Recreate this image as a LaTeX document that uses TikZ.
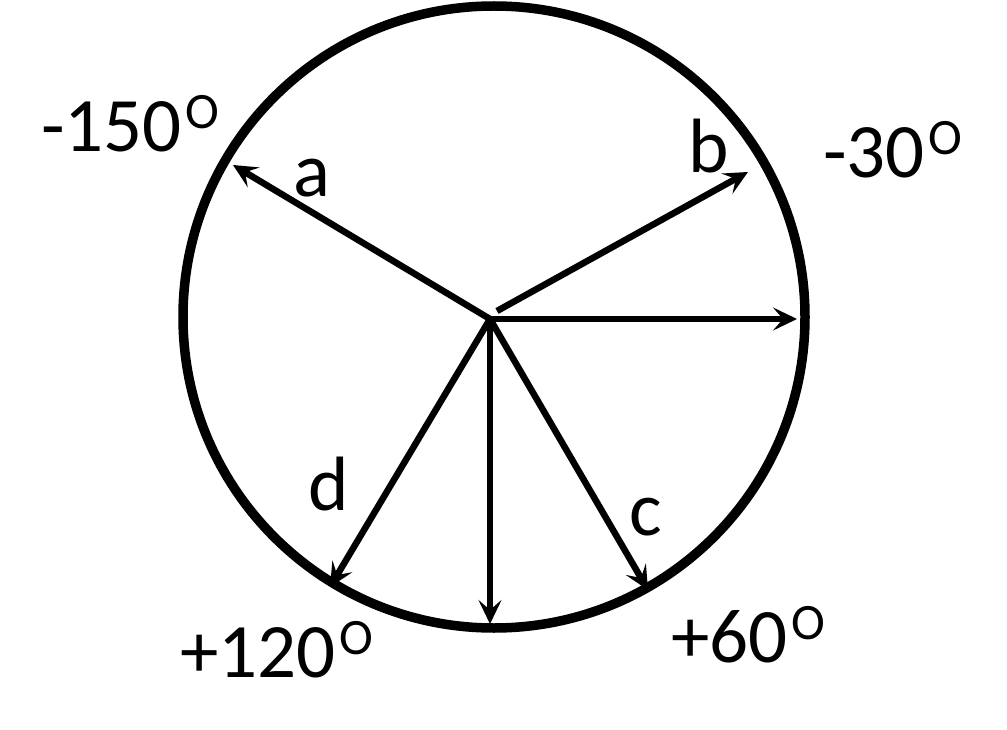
\documentclass[tikz,border=0pt]{standalone}
\usepackage{fontspec}
\setmainfont{Carlito}
\usetikzlibrary{arrows.meta}
\newcommand{\degsup}{\kern4pt\raisebox{23pt}{\fontsize{51}{56}\selectfont O}}
\begin{document}
\begin{tikzpicture}[x=1pt,y=-1pt,
  ring/.style={draw=black,line width=9.5pt},
  vec/.style={line width=6.5pt,-{Stealth[length=24pt,width=23pt,inset=10pt]}},
  lbl/.style={inner sep=0pt,anchor=base west,font=\fontsize{77}{90}\selectfont}]
\useasboundingbox (0,0) rectangle (1007,730);
\fill[white] (0,0) rectangle (1007,730);
\coordinate (C) at (494,317);
\draw[ring] (C) circle[radius=311];
\coordinate (O) at (490,319);
\coordinate (Ob) at (497,311);
\coordinate (ta) at (233,165);
\coordinate (tb) at (748,172);
\coordinate (tr) at (797,319);
\coordinate (td) at (490,624);
\coordinate (tc) at (648,590);
\coordinate (tdd) at (330,587);
\draw[vec] (O) -- (ta);
\draw[vec] (Ob) -- (tb);
\draw[vec] (O) -- (tr);
\draw[vec] (O) -- (td);
\draw[vec] (O) -- (tc);
\draw[vec] (O) -- (tdd);
\node[lbl] (l150) at (41,152) {-150\degsup};
\node[lbl] (l30) at (823,178) {-30\degsup};
\node[lbl] (l120) at (180,677) {+120\degsup};
\node[lbl] (l60) at (671,662) {+60\degsup};
\node[lbl] (la) at (293,197) {a};
\node[lbl] (lb) at (688,173) {b};
\node[lbl] (lc) at (629,535) {c};
\node[lbl] (ld) at (308,510) {d};
\end{tikzpicture}
\end{document}
